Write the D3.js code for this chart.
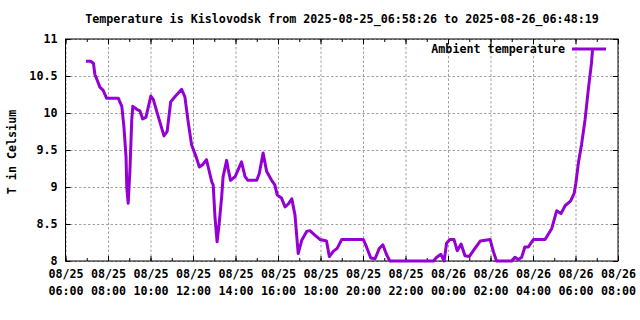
<!DOCTYPE html>
<html>
<head>
<meta charset="utf-8">
<script src="https://cdn.jsdelivr.net/npm/d3@7"></script>
<style>
  body { margin: 0; background: #fff; }
  svg { display: block; }
  text { font-family: "DejaVu Sans Mono", monospace; font-weight: bold; font-size: 11.7px; fill: #000; }
  .grid line { stroke: #a0a0a0; stroke-width: 1; stroke-dasharray: 2.5,2; }
  .grid path { display: none; }
  .axis path { display: none; }
  .axis line { stroke: #000; stroke-width: 1; }
</style>
</head>
<body>
<svg width="640" height="320"></svg>
<script>
const times = [
    "2025-08-25 06:58", "2025-08-25 07:11", "2025-08-25 07:19", "2025-08-25 07:23", "2025-08-25 07:29",
    "2025-08-25 07:37", "2025-08-25 07:46", "2025-08-25 07:56", "2025-08-25 08:29", "2025-08-25 08:39",
    "2025-08-25 08:45", "2025-08-25 08:51", "2025-08-25 08:53", "2025-08-25 08:57", "2025-08-25 09:02",
    "2025-08-25 09:07", "2025-08-25 09:10", "2025-08-25 09:21", "2025-08-25 09:30", "2025-08-25 09:38",
    "2025-08-25 09:47", "2025-08-25 10:01", "2025-08-25 10:08", "2025-08-25 10:22", "2025-08-25 10:38",
    "2025-08-25 10:47", "2025-08-25 10:57", "2025-08-25 11:09", "2025-08-25 11:28", "2025-08-25 11:37",
    "2025-08-25 11:47", "2025-08-25 11:56", "2025-08-25 12:10", "2025-08-25 12:18", "2025-08-25 12:27",
    "2025-08-25 12:38", "2025-08-25 12:43", "2025-08-25 12:53", "2025-08-25 12:57", "2025-08-25 13:02",
    "2025-08-25 13:08", "2025-08-25 13:14", "2025-08-25 13:21", "2025-08-25 13:25", "2025-08-25 13:35",
    "2025-08-25 13:39", "2025-08-25 13:46", "2025-08-25 13:59", "2025-08-25 14:17", "2025-08-25 14:27",
    "2025-08-25 14:35", "2025-08-25 15:00", "2025-08-25 15:07", "2025-08-25 15:18", "2025-08-25 15:28",
    "2025-08-25 15:42", "2025-08-25 15:51", "2025-08-25 15:58", "2025-08-25 16:10", "2025-08-25 16:20",
    "2025-08-25 16:29", "2025-08-25 16:39", "2025-08-25 16:48", "2025-08-25 16:57", "2025-08-25 17:07",
    "2025-08-25 17:21", "2025-08-25 17:30", "2025-08-25 17:44", "2025-08-25 17:59", "2025-08-25 18:17",
    "2025-08-25 18:25", "2025-08-25 18:36", "2025-08-25 18:47", "2025-08-25 19:00", "2025-08-25 20:01",
    "2025-08-25 20:10", "2025-08-25 20:22", "2025-08-25 20:34", "2025-08-25 20:46", "2025-08-25 20:56",
    "2025-08-25 21:07", "2025-08-25 21:16", "2025-08-25 23:19", "2025-08-25 23:28", "2025-08-25 23:40",
    "2025-08-25 23:49", "2025-08-25 23:56", "2025-08-26 00:05", "2025-08-26 00:17", "2025-08-26 00:26",
    "2025-08-26 00:37", "2025-08-26 00:48", "2025-08-26 01:00", "2025-08-26 01:16", "2025-08-26 01:31",
    "2025-08-26 01:59", "2025-08-26 02:08", "2025-08-26 02:17", "2025-08-26 03:00", "2025-08-26 03:09",
    "2025-08-26 03:19", "2025-08-26 03:28", "2025-08-26 03:37", "2025-08-26 03:47", "2025-08-26 04:01",
    "2025-08-26 04:34", "2025-08-26 04:53", "2025-08-26 05:07", "2025-08-26 05:19", "2025-08-26 05:31",
    "2025-08-26 05:46", "2025-08-26 05:56", "2025-08-26 06:01", "2025-08-26 06:08", "2025-08-26 06:17",
    "2025-08-26 06:27", "2025-08-26 06:36", "2025-08-26 06:45", "2025-08-26 06:48"
];
const temps = [
    10.70, 10.70, 10.67, 10.52, 10.45,
    10.35, 10.31, 10.20, 10.20, 10.09,
    9.81, 9.40, 9.00, 8.78, 9.23,
    9.90, 10.09, 10.05, 10.03, 9.92,
    9.94, 10.23, 10.18, 9.95, 9.69,
    9.75, 10.15, 10.22, 10.32, 10.22,
    9.86, 9.57, 9.39, 9.27, 9.30,
    9.37, 9.27, 9.07, 9.03, 8.60,
    8.26, 8.51, 8.87, 9.14, 9.36,
    9.25, 9.09, 9.14, 9.34, 9.14,
    9.09, 9.09, 9.18, 9.46, 9.21,
    9.09, 9.03, 8.89, 8.85, 8.73,
    8.77, 8.84, 8.62, 8.10, 8.28,
    8.40, 8.41, 8.35, 8.29, 8.27,
    8.06, 8.13, 8.17, 8.29, 8.29,
    8.19, 8.04, 8.03, 8.17, 8.22,
    8.08, 8.00, 8.00, 8.05, 8.09,
    8.00, 8.24, 8.29, 8.29, 8.14,
    8.23, 8.07, 8.06, 8.17, 8.27,
    8.29, 8.13, 8.00, 8.00, 8.05,
    8.02, 8.05, 8.19, 8.19, 8.29,
    8.29, 8.44, 8.68, 8.64, 8.75,
    8.81, 8.91, 9.05, 9.32, 9.57,
    9.91, 10.31, 10.67, 10.85
];
const xDomain = ["2025-08-25 06:00", "2025-08-26 08:00"];
const yTicks = [8, 8.5, 9, 9.5, 10, 10.5, 11];
const titleText = "Temperature is Kislovodsk from 2025-08-25_06:58:26 to 2025-08-26_06:48:19";
const yLabel = "T in Celsium";
const seriesName = "Ambient temperature";

const parse = d3.timeParse("%Y-%m-%d %H:%M");
const data = times.map((t, i) => ({ t: parse(t), v: temps[i] }));

const svg = d3.select("svg");
const plotLeft = 65.5, plotRight = 618, plotTop = 39, plotBottom = 261;

const x = d3.scaleTime().domain(xDomain.map(parse)).range([plotLeft, plotRight]);
const y = d3.scaleLinear().domain([8, 11]).range([plotBottom, plotTop]);

// Grid
svg.append("g")
    .attr("class", "grid")
    .attr("transform", `translate(0,${plotBottom})`)
    .call(d3.axisBottom(x).ticks(d3.timeHour.every(2)).tickSize(-(plotBottom - plotTop)).tickFormat(""));
svg.append("g")
    .attr("class", "grid")
    .attr("transform", `translate(${plotLeft},0)`)
    .call(d3.axisLeft(y).tickValues(yTicks).tickSize(-(plotRight - plotLeft)).tickFormat(""));

// Minor ticks (every hour), bottom and top
svg.append("g")
    .attr("class", "axis")
    .attr("transform", `translate(0,${plotBottom})`)
    .call(d3.axisBottom(x).ticks(d3.timeHour.every(1)).tickSize(-3).tickFormat(""));
svg.append("g")
    .attr("class", "axis")
    .attr("transform", `translate(0,${plotTop})`)
    .call(d3.axisTop(x).ticks(d3.timeHour.every(1)).tickSize(-3).tickFormat(""));

// Major x ticks with two-line labels
const fmtDate = d3.timeFormat("%m/%d"), fmtTime = d3.timeFormat("%H:%M");
const xAxis = svg.append("g")
    .attr("class", "axis")
    .attr("transform", `translate(0,${plotBottom})`)
    .call(d3.axisBottom(x).ticks(d3.timeHour.every(2)).tickSize(-5).tickFormat(""));
xAxis.selectAll(".tick text").each(function(d) {
    const t = d3.select(this).attr("y", null).attr("dy", null);
    t.append("tspan").attr("x", 0).attr("y", 17).text(fmtDate(d));
    t.append("tspan").attr("x", 0).attr("y", 33.5).text(fmtTime(d));
});
svg.append("g")
    .attr("class", "axis")
    .attr("transform", `translate(0,${plotTop})`)
    .call(d3.axisTop(x).ticks(d3.timeHour.every(2)).tickSize(-5).tickFormat(""));

// Y axes
svg.append("g")
    .attr("class", "axis")
    .attr("transform", `translate(${plotLeft},0)`)
    .call(d3.axisLeft(y).tickValues(yTicks).tickSize(-5).tickPadding(8).tickFormat(d3.format("")))
    .selectAll("text").attr("dy", "0.28em");
svg.append("g")
    .attr("class", "axis")
    .attr("transform", `translate(${plotRight},0)`)
    .call(d3.axisRight(y).tickValues(yTicks).tickSize(-5).tickFormat(""));

// Border
svg.append("rect")
    .attr("x", plotLeft).attr("y", plotTop)
    .attr("width", plotRight - plotLeft).attr("height", plotBottom - plotTop)
    .attr("fill", "none").attr("stroke", "#000").attr("stroke-width", 1);

// Series line
const line = d3.line().x(d => x(d.t)).y(d => y(d.v));
svg.append("path")
    .datum(data)
    .attr("d", line)
    .attr("fill", "none")
    .attr("stroke", "#9400d3")
    .attr("stroke-width", 3)
    .attr("stroke-linejoin", "round");

// Title and labels
svg.append("text")
    .attr("x", 342).attr("y", 23)
    .attr("text-anchor", "middle")
    .text(titleText);
svg.append("text")
    .attr("transform", "translate(16,152) rotate(-90)")
    .attr("text-anchor", "middle")
    .text(yLabel);

// Legend
svg.append("text")
    .attr("x", 565).attr("y", 53)
    .attr("text-anchor", "end")
    .text(seriesName);
svg.append("line")
    .attr("x1", 572).attr("x2", 606)
    .attr("y1", 49).attr("y2", 49)
    .attr("stroke", "#9400d3").attr("stroke-width", 3);
</script>
</body>
</html>
